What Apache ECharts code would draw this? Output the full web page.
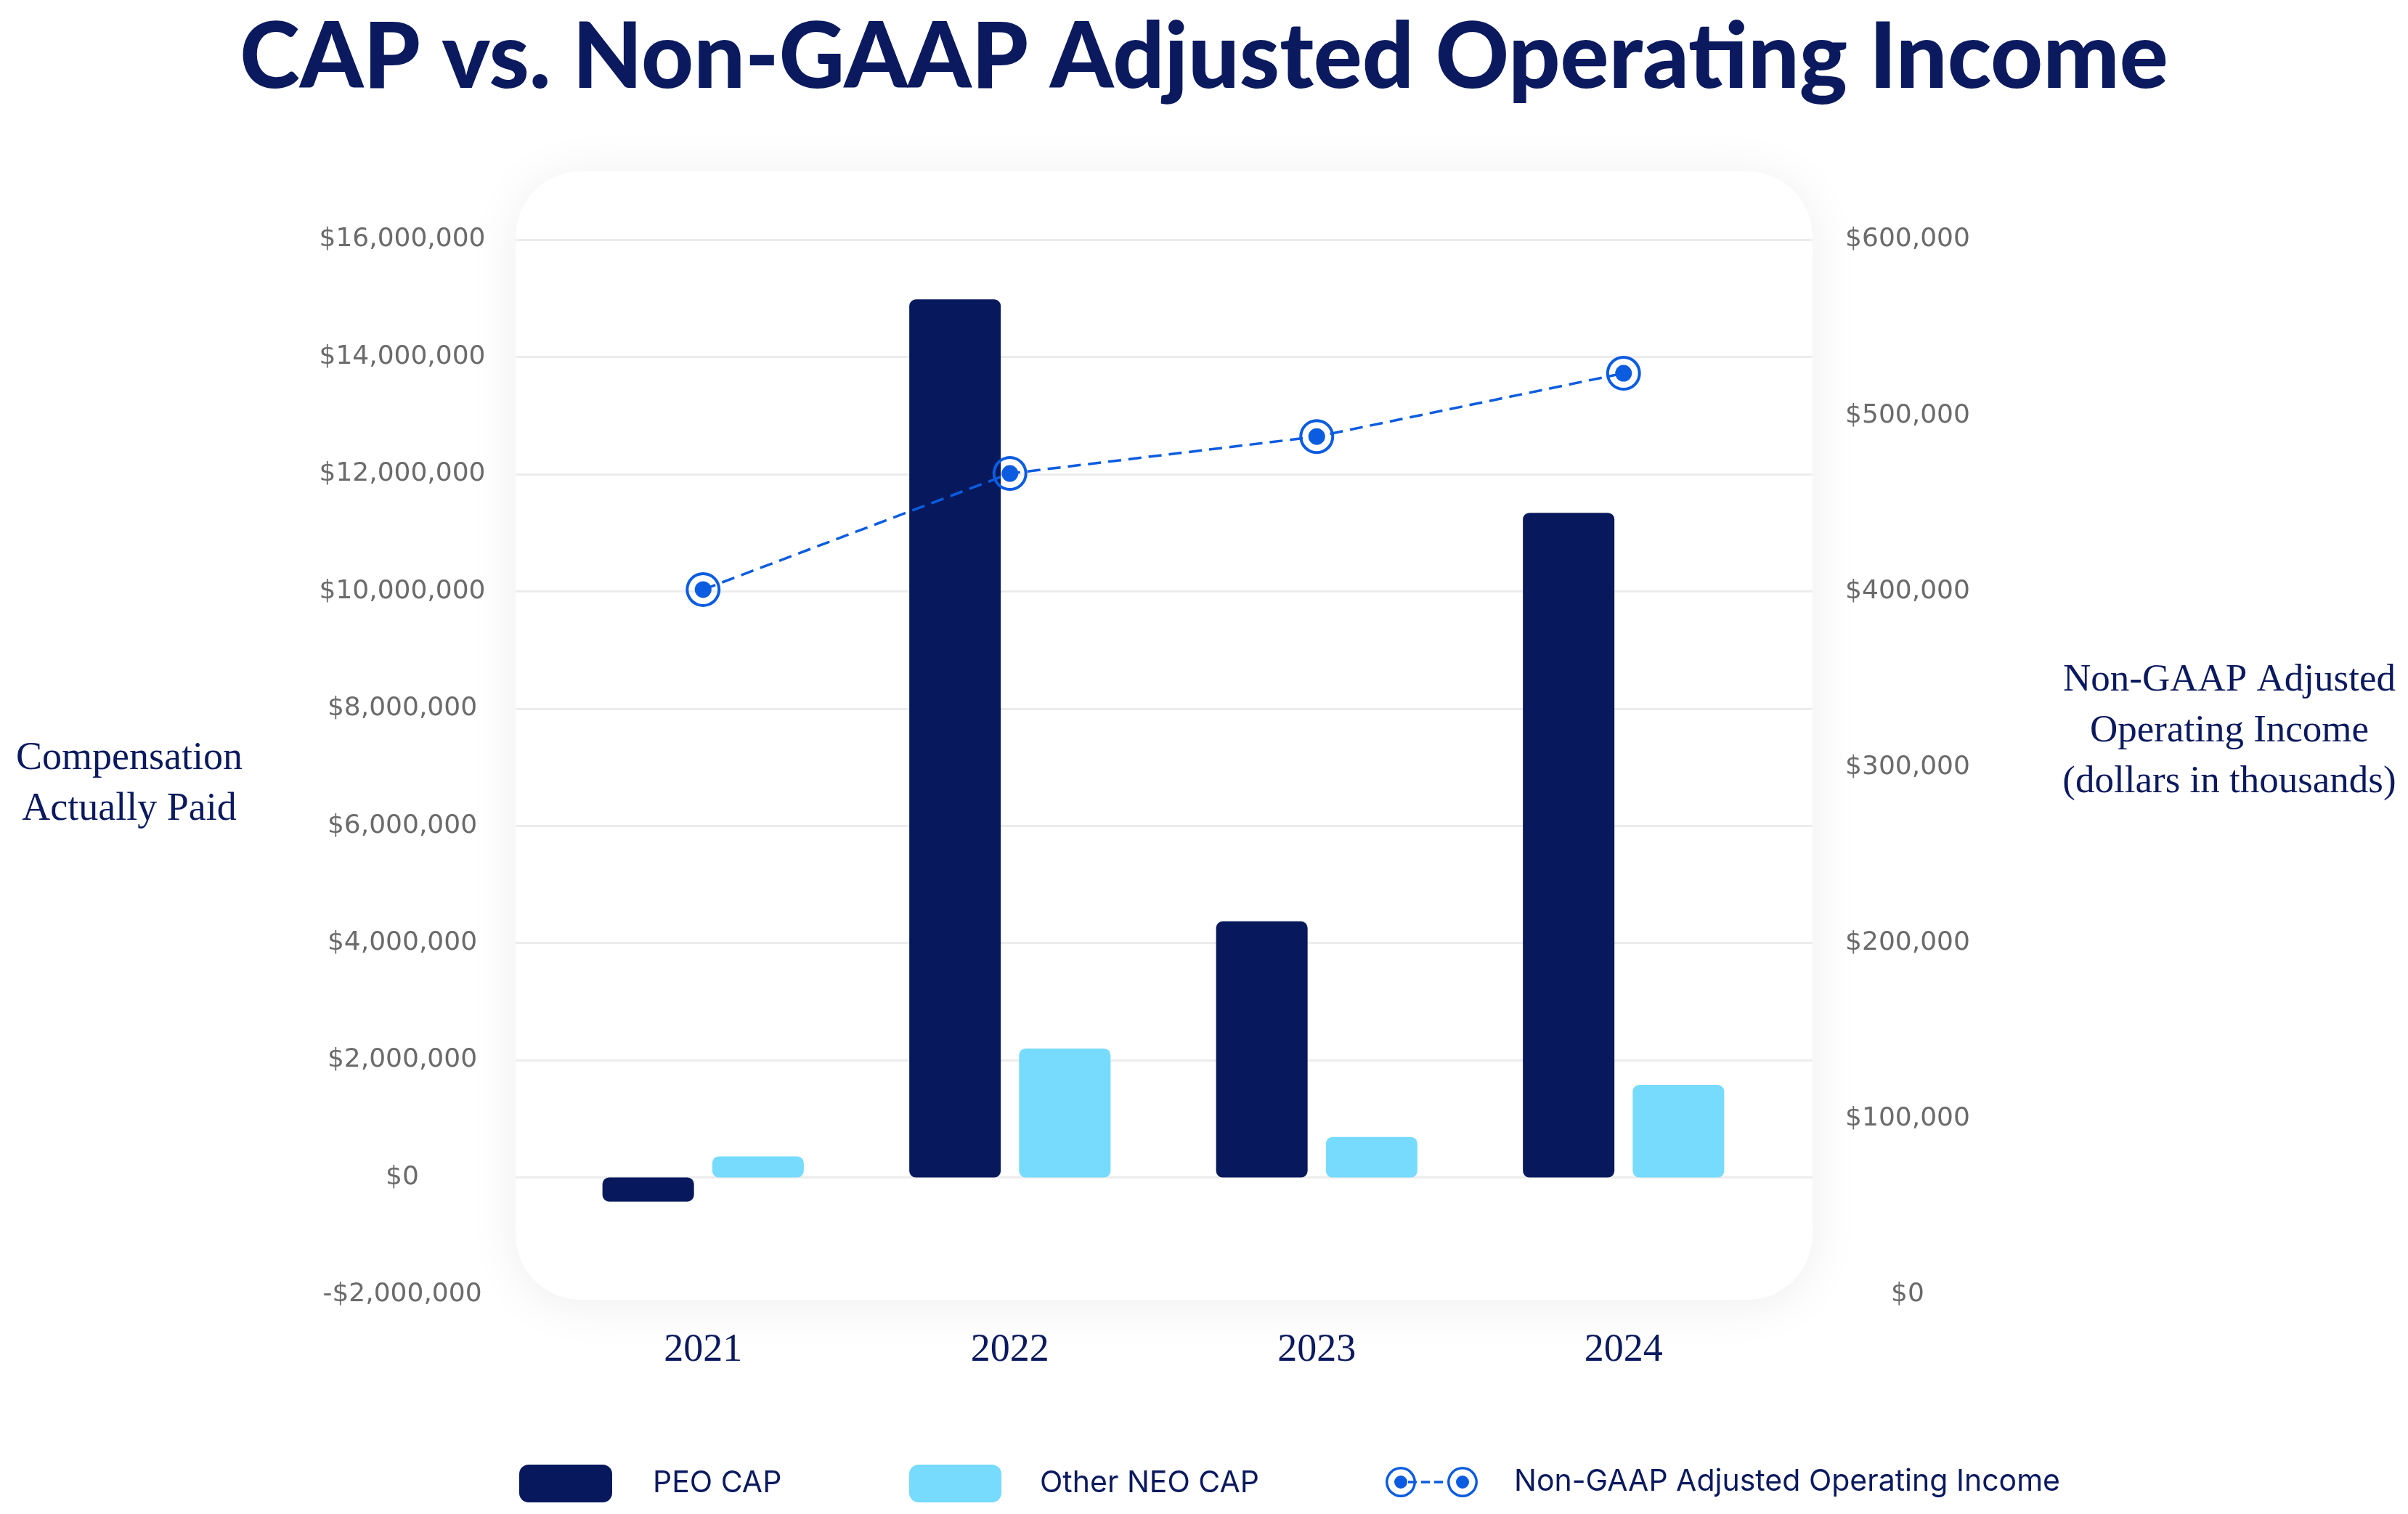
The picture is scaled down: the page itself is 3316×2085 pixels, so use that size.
<!DOCTYPE html>
<html>
<head>
<meta charset="utf-8">
<script src="https://cdn.jsdelivr.net/npm/echarts@6/dist/echarts.min.js"></script>
<style>
html,body{margin:0;padding:0;background:#ffffff;}
#chart{width:3316px;height:2085px;}
</style>
</head>
<body>
<div id="chart"></div>
<script>
// ---- data ----
var years = ['2021', '2022', '2023', '2024'];
var peoCap = [-410000, 14980000, 4370000, 11340000];
var otherNeoCap = [360000, 2200000, 690000, 1580000];
var adjOpIncome = [401000, 467000, 488000, 524000];
var leftAxisTicks = { min: -2000000, max: 16000000, interval: 2000000 };
var rightAxisTicks = { min: 0, max: 600000, interval: 100000 };

var NAVY = '#07195c';
var CYAN = '#76dbfc';
var BLUE = '#0b5ce0';
var TITLE = '#0b1a5e';
var GRAY = '#6b6b6b';

function money(v) {
  var s = Math.abs(v).toString().replace(/\B(?=(\d{3})+(?!\d))/g, ',');
  return (v < 0 ? '-$' : '$') + s;
}

var ringPath = 'path://M0,24A24,24,0,1,1,48,24A24,24,0,1,1,0,24Z' +
  'M4,24A20,20,0,1,0,44,24A20,20,0,1,0,4,24Z' +
  'M12.5,24A11.5,11.5,0,1,1,35.5,24A11.5,11.5,0,1,1,12.5,24Z';

var legendLinePath = 'path://M0,21A21,21,0,1,1,42,21A21,21,0,1,1,0,21Z' +
  'M3.5,21A17.5,17.5,0,1,0,38.5,21A17.5,17.5,0,1,0,3.5,21Z' +
  'M12,21A9,9,0,1,1,30,21A9,9,0,1,1,12,21Z' +
  'M85,21A21,21,0,1,1,127,21A21,21,0,1,1,85,21Z' +
  'M88.5,21A17.5,17.5,0,1,0,123.5,21A17.5,17.5,0,1,0,88.5,21Z' +
  'M97,21A9,9,0,1,1,115,21A9,9,0,1,1,97,21Z' +
  'M31,19.2h12v3.6h-12Z M49,19.2h12v3.6h-12Z M67,19.2h12v3.6h-12Z';

var gridColors = ['rgba(0,0,0,0)'];
for (var i = 0; i < 9; i++) gridColors.push('#ececec');

var chart = echarts.init(document.getElementById('chart'), null, { renderer: 'canvas' });

var legendText = { fontFamily: 'Inter', fontSize: 41, color: TITLE };

chart.setOption({
  animation: false,
  backgroundColor: '#ffffff',
  graphic: [{
    type: 'rect',
    z: -10,
    shape: { x: 710, y: 236, width: 1786, height: 1554, r: 90 },
    style: { fill: '#ffffff', shadowBlur: 70, shadowColor: 'rgba(0,0,0,0.07)', shadowOffsetY: 6 }
  }],
  title: [{
    text: 'CAP vs. Non-GAAP Adjusted Operating Income',
    left: 'center', top: 18, padding: 0,
    textStyle: { fontFamily: 'Lato', fontWeight: 900, fontSize: 125, color: TITLE }
  }, {
    text: 'Compensation\nActually Paid',
    left: 178, top: 1010, padding: 0, textAlign: 'center',
    textStyle: { fontFamily: 'Liberation Serif', fontWeight: 'normal', fontSize: 54, lineHeight: 70, color: TITLE }
  }, {
    text: 'Non-GAAP Adjusted\nOperating Income\n(dollars in thousands)',
    left: 3070, top: 902, padding: 0, textAlign: 'center',
    textStyle: { fontFamily: 'Liberation Serif', fontWeight: 'normal', fontSize: 53, lineHeight: 70, color: TITLE }
  }],
  legend: [{
    data: [{ name: 'PEO CAP', icon: 'roundRect' }],
    left: 715, top: 2017, padding: 0, itemWidth: 128, itemHeight: 52,
    textStyle: Object.assign({ padding: [0, 0, 0, 51] }, legendText),
    selectedMode: false
  }, {
    data: [{ name: 'Other NEO CAP', icon: 'roundRect' }],
    left: 1252, top: 2017, padding: 0, itemWidth: 127, itemHeight: 52,
    textStyle: Object.assign({ padding: [0, 0, 0, 48] }, legendText),
    selectedMode: false
  }, {
    data: [{ name: 'Non-GAAP Adjusted Operating Income', icon: legendLinePath }],
    left: 1908, top: 2020, padding: 0, itemWidth: 127, itemHeight: 42,
    itemStyle: { color: BLUE, borderWidth: 0 },
    textStyle: Object.assign({ padding: [0, 0, 0, 45] }, legendText),
    selectedMode: false
  }],
  grid: [
    { left: 710, right: 820, top: 330, bottom: 302 },
    { left: 757, right: 869, top: 330, bottom: 302 }
  ],
  xAxis: [
    { gridIndex: 0, type: 'category', data: years, show: false },
    {
      gridIndex: 1, type: 'category', data: years,
      axisLine: { show: false }, axisTick: { show: false },
      axisLabel: { margin: 50, fontFamily: 'Liberation Serif', fontSize: 54, color: TITLE },
      splitLine: { show: false }
    }
  ],
  yAxis: [
    {
      gridIndex: 0, type: 'value', position: 'left',
      min: leftAxisTicks.min, max: leftAxisTicks.max, interval: leftAxisTicks.interval,
      axisLine: { show: false }, axisTick: { show: false },
      axisLabel: { formatter: money, margin: 156, align: 'center', fontFamily: 'DejaVu Sans', fontSize: 36, color: GRAY },
      splitLine: { show: true, lineStyle: { color: gridColors, width: 3 } }
    },
    {
      gridIndex: 0, type: 'value', position: 'right',
      min: rightAxisTicks.min, max: rightAxisTicks.max, interval: rightAxisTicks.interval,
      axisLine: { show: false }, axisTick: { show: false },
      axisLabel: { formatter: money, margin: 131, align: 'center', fontFamily: 'DejaVu Sans', fontSize: 36, color: GRAY },
      splitLine: { show: false }
    },
    {
      gridIndex: 1, type: 'value', show: false,
      min: leftAxisTicks.min, max: leftAxisTicks.max, interval: leftAxisTicks.interval,
      splitLine: { show: false }
    },
    {
      gridIndex: 1, type: 'value', show: false,
      min: rightAxisTicks.min, max: rightAxisTicks.max, interval: rightAxisTicks.interval,
      splitLine: { show: false }
    }
  ],
  series: [{
    name: 'PEO CAP', type: 'bar', xAxisIndex: 1, yAxisIndex: 2,
    data: peoCap, barWidth: 126, barGap: '20%',
    itemStyle: { color: NAVY, borderRadius: 9 }
  }, {
    name: 'Other NEO CAP', type: 'bar', xAxisIndex: 1, yAxisIndex: 2,
    data: otherNeoCap, barWidth: 126, barGap: '20%',
    itemStyle: { color: CYAN, borderRadius: 9 }
  }, {
    name: 'Non-GAAP Adjusted Operating Income', type: 'line', xAxisIndex: 1, yAxisIndex: 3,
    data: adjOpIncome, z: 5,
    symbol: ringPath, symbolSize: 48,
    itemStyle: { color: BLUE, borderWidth: 0 },
    lineStyle: { color: BLUE, width: 3.5, type: [18, 10] }
  }]
});
</script>
</body>
</html>
